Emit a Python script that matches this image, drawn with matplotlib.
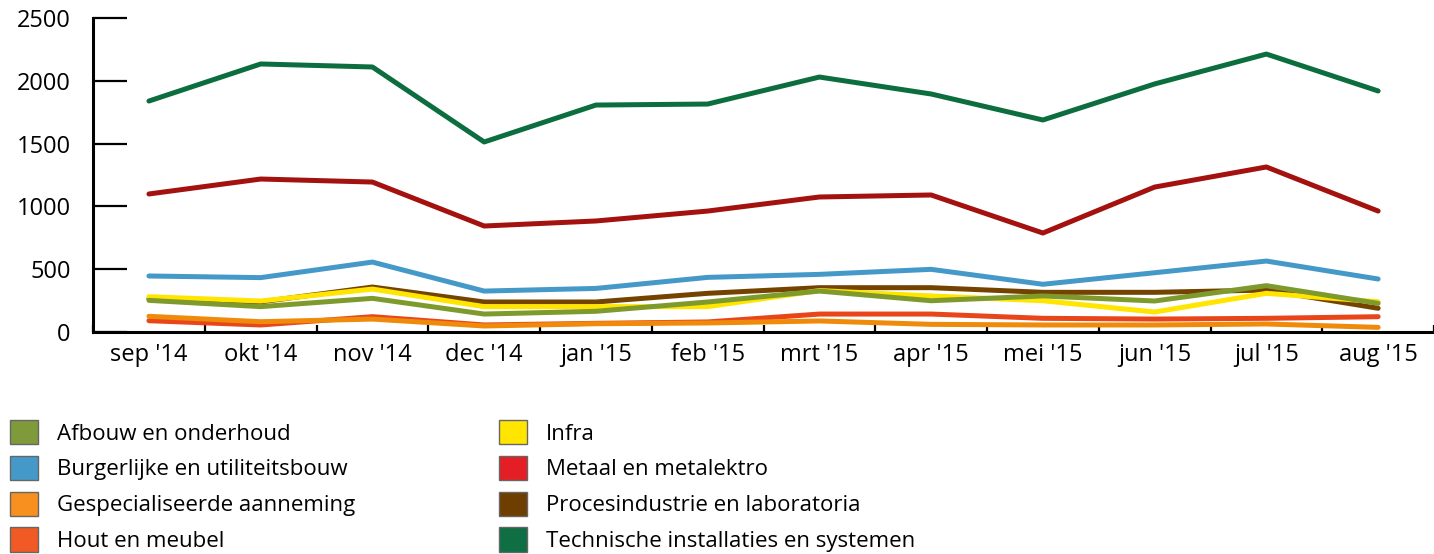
import matplotlib.pyplot as plt
from matplotlib.patches import Patch

plt.rcParams['font.family'] = ['Open Sans', 'DejaVu Sans']

# maanden
maanden = ["sep '14", "okt '14", "nov '14", "dec '14", "jan '15", "feb '15",
           "mrt '15", "apr '15", "mei '15", "jun '15", "jul '15", "aug '15"]

afbouw = [252, 202, 268, 143, 165, 239, 326, 249, 287, 247, 369, 228]
burgerlijk = [446, 433, 557, 326, 347, 435, 459, 499, 380, 472, 565, 422]
gespecialiseerd = [125, 82, 103, 48, 66, 72, 88, 61, 56, 56, 64, 37]
hout = [90, 56, 122, 56, 69, 80, 143, 143, 109, 103, 109, 122]
infra = [281, 247, 342, 202, 202, 202, 330, 287, 249, 159, 308, 241]
metaal = [1099, 1218, 1194, 844, 884, 963, 1075, 1091, 788, 1154, 1314, 963]
proces = [265, 240, 358, 239, 239, 308, 353, 353, 316, 316, 334, 189]
technisch = [1839, 2134, 2110, 1513, 1807, 1815, 2030, 1895, 1688, 1975, 2213, 1919]

namen = ["Afbouw en onderhoud", "Burgerlijke en utiliteitsbouw",
         "Gespecialiseerde aanneming", "Hout en meubel", "Infra",
         "Metaal en metalektro", "Procesindustrie en laboratoria",
         "Technische installaties en systemen"]
reeksen = [afbouw, burgerlijk, gespecialiseerd, hout, infra, metaal, proces, technisch]
lijnkleuren = ["#7f9a2c", "#4599c9", "#f08a0a", "#e8461a", "#ffe500",
               "#a3120f", "#744300", "#0c6e3e"]
vlakkleuren = ["#7f9a3a", "#4599c9", "#f7901e", "#f15a24", "#ffe500",
               "#e31e24", "#6e3d00", "#0f6e43"]

fig = plt.figure(figsize=(14.34, 5.54), dpi=100)
ax = fig.add_axes([0.0649, 0.4007, 0.9351, 0.5668])

x = list(range(len(maanden)))
# laatste reeks eerst tekenen, zodat Afbouw bovenop ligt
for i in reversed(range(len(reeksen))):
    ax.plot(x, reeksen[i], color=lijnkleuren[i], lw=3.6,
            solid_capstyle='round', solid_joinstyle='round', zorder=10 - i)

ax.set_xlim(-0.5, 11.5)
ax.set_ylim(0, 2500)
ax.set_yticks([0, 500, 1000, 1500, 2000, 2500])
ax.set_xticks(x)
ax.set_xticklabels(maanden)
ax.set_xticks([i + 0.5 for i in range(-1, 12)], minor=True)

for s in ['top', 'right']:
    ax.spines[s].set_visible(False)
for s in ['left', 'bottom']:
    ax.spines[s].set_linewidth(2.2)

ax.tick_params(axis='y', direction='in', length=24.5, width=1.6,
               labelsize=17, pad=16)
ax.tick_params(axis='x', which='major', length=0, labelsize=17, pad=8)
ax.tick_params(axis='x', which='minor', direction='in', length=5, width=1.6)

handles = [Patch(facecolor=c, edgecolor='#666666', lw=1) for c in vlakkleuren]
fig.legend(handles, namen, ncol=2, loc='upper left',
           bbox_to_anchor=(-0.0005, 0.262), frameon=False, fontsize=16,
           handlelength=1.26, handleheight=1.32, handletextpad=0.85,
           labelspacing=0.5, columnspacing=6.45, borderpad=0)

fig.savefig('out.png', dpi=100)
